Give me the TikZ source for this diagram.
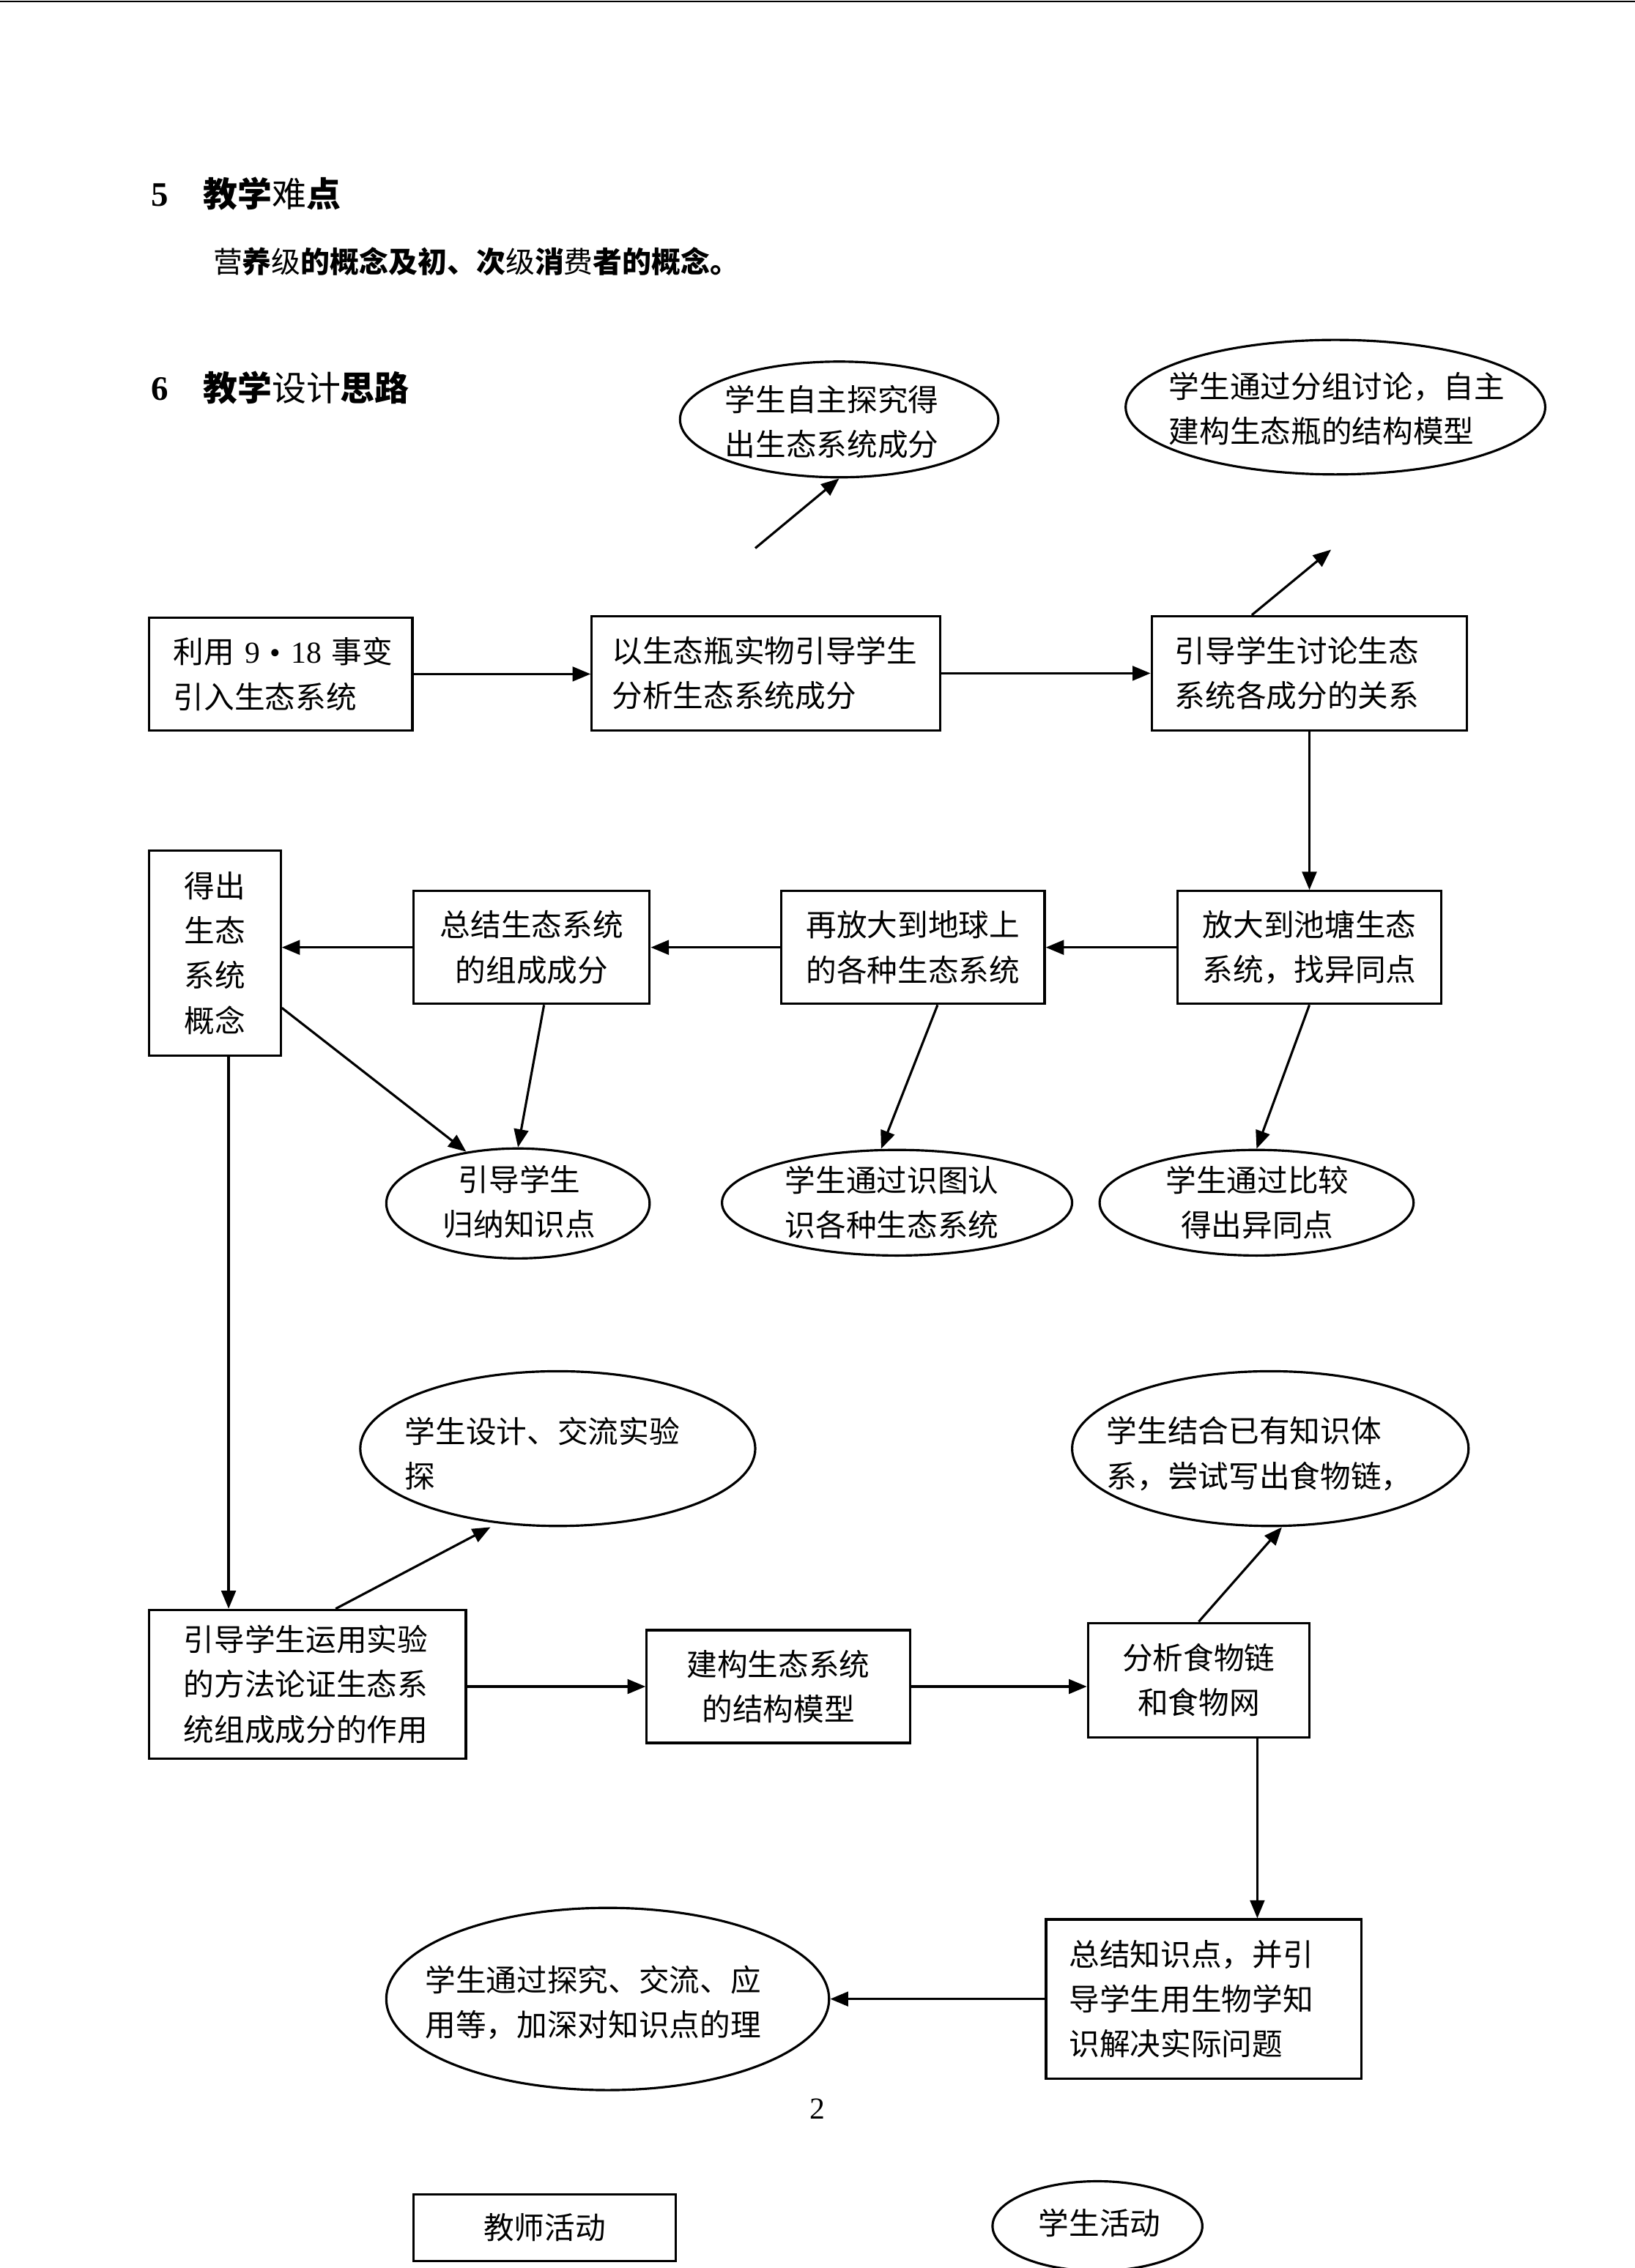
\documentclass[tikz,border=0pt]{standalone}
\usepackage{fontspec}
\setmainfont{Noto Sans CJK SC}
\newfontfamily\tnr{Liberation Serif}
\usetikzlibrary{shapes.geometric,arrows.meta,calc}
\newdimen\unitpx \unitpx=0.019752cm
\newcommand\bodytxt{\fontsize{11.85pt}{17.4pt}\selectfont}
\newcommand\headtxt{\fontsize{13.35pt}{16pt}\selectfont}
\newcommand\subtxt{\fontsize{11.35pt}{14pt}\selectfont}
\begin{document}
\begin{tikzpicture}[x=0.019752cm, y=-0.019752cm,
  sz/.style 2 args={minimum width=#1*\unitpx, minimum height=#2*\unitpx},
  box/.style={draw, rectangle, line width=0.9pt, inner sep=0pt, font=\bodytxt, align=center},
  oval/.style={draw, ellipse, line width=0.9pt, inner sep=0pt},
  lbl/.style={inner sep=0pt, font=\bodytxt, align=center},
  arr/.style={line width=0.9pt, -{Triangle[length=7pt,width=5.6pt]}}]
\useasboundingbox (0,0) rectangle (1130,1568);
\draw[line width=0.8pt] (0,1) -- (1130,1);

% headings
\node[anchor=west, inner sep=0pt, font=\headtxt] (n5) at (104,135) {\tnr\bfseries 5};
\node[anchor=west, inner sep=0pt, font=\headtxt] (h5) at (140,134) {{\bfseries 教学}难{\bfseries 点}};
\node[anchor=west, inner sep=0pt, font=\subtxt] (p5) at (147,181) {营{\bfseries 养}级{\bfseries 的概念及初、次}级{\bfseries 消}费{\bfseries 者的概念。}};
\node[anchor=west, inner sep=0pt, font=\headtxt] (n6) at (104,269) {\tnr\bfseries 6};
\node[anchor=west, inner sep=0pt, font=\headtxt] (h6) at (140,268) {{\bfseries 教学}设计{\bfseries 思路}};

% row 1
\node[box, sz={182}{78}, text width=2.923cm, align=left] (b1) at (194,466) {\mbox{利用 {\tnr 9 • 18} 事变}\\引入生态系统};
\node[box, sz={241}{79}, text width=4.207cm, align=left] (b2) at (529.5,465.5) {以生态瓶实物引导学生\\分析生态系统成分};
\node[box, sz={218}{79}, text width=3.674cm, align=left] (b3) at (905,465.5) {引导学生讨论生态\\系统各成分的关系};

% top ellipses
\node[oval, sz={220}{80}] (e1) at (580,290) {};
\node[lbl] (e1t) at (575,291.5) {学生自主探究得\\出生态系统成分};
\node[oval, sz={290}{93}] (e2) at (923,281.5) {};
\node[lbl, text width=4.642cm, align=left] (e2t) at (925.5,282.5) {学生通过分组讨论，自主\\建构生态瓶的结构模型};

% row 2
\node[box, sz={182}{78}] (b4) at (905,655) {放大到池塘生态\\系统，找异同点};
\node[box, sz={182}{78}] (b5) at (631,655) {再放大到地球上\\的各种生态系统};
\node[box, sz={163}{78}] (b6) at (367.5,655) {总结生态系统\\的组成成分};
\node[box, sz={91}{142}] (b7) at (148.5,659) {得出\\生态\\系统\\概念};

% row 2 ellipses
\node[oval, sz={182}{76}] (e3) at (358,832) {};
\node[lbl] (e3t) at (359,831) {引导学生\\归纳知识点};
\node[oval, sz={242}{73}] (e4) at (620,831.5) {};
\node[lbl] (e4t) at (616.5,831.5) {学生通过识图认\\识各种生态系统};
\node[oval, sz={217}{73}] (e5) at (868.5,831.5) {};
\node[lbl] (e5t) at (869,831.5) {学生通过比较\\得出异同点};

% row 3
\node[box, sz={219}{103}, text width=3.378cm, align=left] (b8) at (212.5,1164.5) {引导学生运用实验\\的方法论证生态系\\统组成成分的作用};
\node[box, sz={182}{78}] (b9) at (538,1166) {建构生态系统\\的结构模型};
\node[box, sz={153}{79}] (b10) at (828.5,1161.5) {分析食物链\\和食物网};
\node[oval, sz={273}{107}] (e6) at (385.5,1001.5) {};
\node[lbl, text width=4.187cm, align=left] (e6t) at (386,1005) {学生设计、交流实验\\探};
\node[oval, sz={274}{107}] (e7) at (878,1001.5) {};
\node[lbl, text width=4.207cm, align=left] (e7t) at (871.5,1005) {学生结合已有知识体\\系，尝试写出食物链，};

% row 4
\node[box, sz={218}{110}, text width=3.674cm, align=left] (b11) at (832,1382) {总结知识点，并引\\导学生用生物学知\\识解决实际问题};
\node[oval, sz={306}{126}] (e8) at (420,1382) {};
\node[lbl, text width=4.642cm, align=left] (e8t) at (411.5,1384.5) {学生通过探究、交流、应\\用等，加深对知识点的理};

% page number and legend
\node[inner sep=0pt, font=\bodytxt] (pg) at (565,1458) {\tnr 2};
\node[box, sz={181}{46}] (lg1) at (376.5,1540) {教师活动};
\node[oval, sz={145}{62}] (lg2) at (758.5,1539) {};
\node[lbl] (lg2t) at (760,1537) {学生活动};

% connectors
\coordinate (c1) at (522,379);
\coordinate (c2) at (920,380);
\draw[arr] (c1) -- (e1.south);
\draw[arr] ($(b3.north west)+(70,0)$) -- (c2);
\draw[arr] (b1.east) -- (b1.east -| b2.west);
\draw[arr] (b2.east) -- (b2.east -| b3.west);
\draw[arr] (b3.south) -- (b4.north);
\draw[arr] (b4.west) -- (b4.west -| b5.east);
\draw[arr] (b5.west) -- (b5.west -| b6.east);
\draw[arr] (b6.west) -- (b6.west -| b7.east);
\draw[arr] ($(b7.south east)+(0,-34)$) -- (e3.135);
\draw[arr] ($(b6.south)+(8.5,0)$) -- (e3.north);
\draw[arr] ($(b5.south)+(17,0)$) -- ($(e4.north)+(-11,0)$);
\draw[arr] (b4.south) -- (e5.north);
\coordinate (t1) at ($(b7.south)+(9.5,0)$);
\draw[arr] (t1) -- (t1 |- b8.north);
\draw[arr] ($(b8.north)+(19.5,0)$) -- ($(e6.south)+(-46.5,0)$);
\draw[arr] (b8.east |- b9.west) -- (b9.west);
\draw[arr] (b9.east) -- (b9.east -| b10.west);
\draw[arr] (b10.north) -- ($(e7.south)+(8,0)$);
\coordinate (t2) at ($(b10.south)+(40.5,0)$);
\draw[arr] (t2) -- (t2 |- b11.north);
\draw[arr] (b11.west) -- (e8.east);
\end{tikzpicture}
\end{document}
